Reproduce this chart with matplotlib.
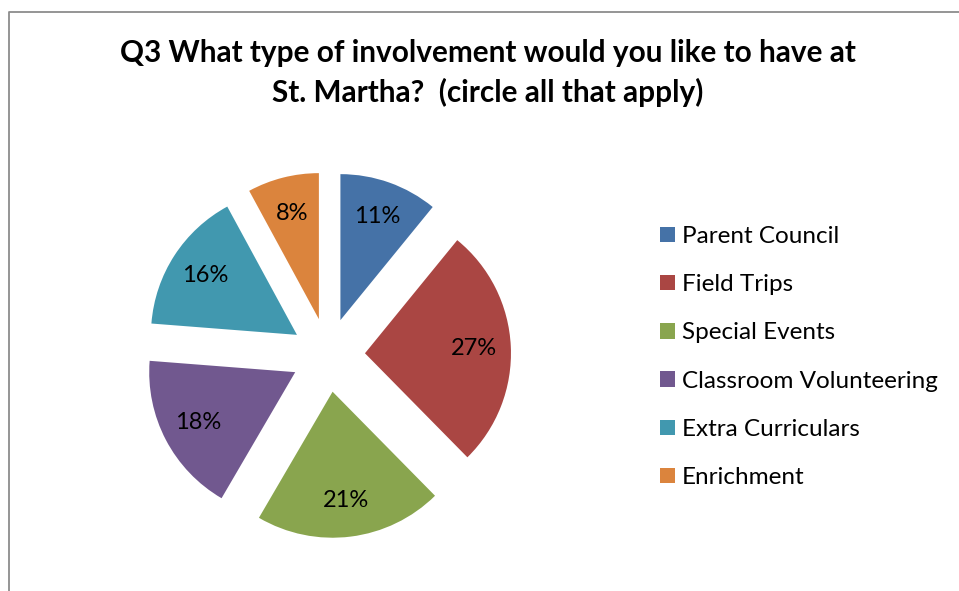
import matplotlib
matplotlib.use('Agg')
import matplotlib.pyplot as plt
from matplotlib.lines import Line2D

# survey answers, percent of respondents
categories = ['Parent Council', 'Field Trips', 'Special Events',
              'Classroom Volunteering', 'Extra Curriculars', 'Enrichment']
shares = [11, 27, 21, 18, 16, 8]
colors = ['#4572A7', '#AA4643', '#89A54E', '#71588F', '#4198AF', '#DB843D']

title = 'Q3 What type of involvement would you like to have at\nSt. Martha?  (circle all that apply)'

W, H = 959, 591
plt.rcParams['font.family'] = ['Lato', 'DejaVu Sans']

fig = plt.figure(figsize=(W / 100, H / 100), dpi=100)
ax = fig.add_axes([0, 0, 1, 1])

total = sum(shares)

# pie laid out in pixel units, explode is an absolute offset here
cx, cy, r = 328, H - 355, 146
wedges, texts, autotexts = ax.pie(
    shares, colors=colors, startangle=90, counterclock=False,
    explode=[37] * len(shares), center=(cx, cy), radius=r,
    autopct=lambda p: '%d%%' % round(p * total / 100), pctdistance=0.75,
    textprops=dict(fontsize=17, color='black'))
ax.set_xlim(0, W)
ax.set_ylim(0, H)
ax.set_aspect('equal')
ax.axis('off')

fig.text(488 / W, 1 - 73 / H, title, ha='center', va='center',
         fontsize=21.4, fontweight='bold', linespacing=1.42)

ax.legend(wedges, categories, loc='upper left',
          bbox_to_anchor=(660 / W, 1 - 226 / H), frameon=False,
          fontsize=17.5, handlelength=0.6, handleheight=0.6,
          handletextpad=0.3, labelspacing=1.12, borderpad=0, borderaxespad=0)

# chart frame, only the top and left edges fall inside the image
fig.add_artist(Line2D([8.5 / W, 8.5 / W, 1], [0, 1 - 11.5 / H, 1 - 11.5 / H],
                      transform=fig.transFigure, color='#8c8c8c', lw=1.3))

fig.savefig('out.png', dpi=100)
